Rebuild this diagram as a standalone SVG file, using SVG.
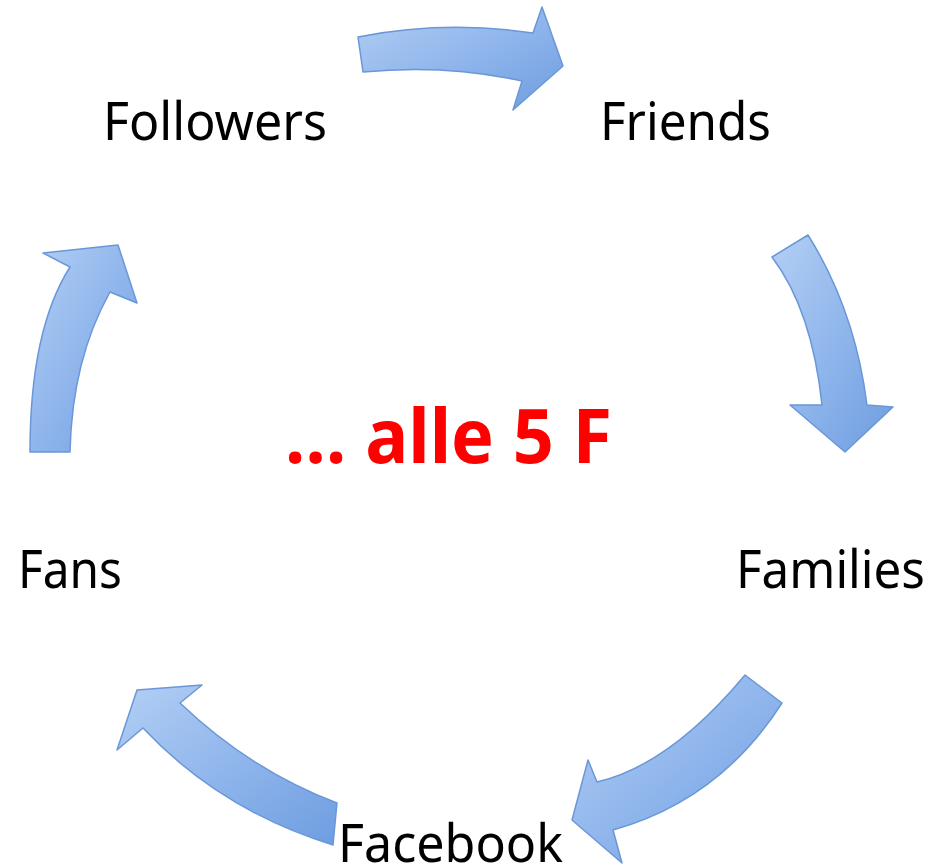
<svg xmlns="http://www.w3.org/2000/svg" width="941" height="868" viewBox="0 0 941 868">
<defs>
<linearGradient id="g" x1="0" y1="0" x2="1" y2="1">
<stop offset="0" stop-color="#b3cff4"/>
<stop offset="0.5" stop-color="#90b6ec"/>
<stop offset="1" stop-color="#6e9de0"/>
</linearGradient>
</defs>
<style>
.arr{fill:url(#g);stroke:#6a97d8;stroke-width:1.5;stroke-linejoin:round}
.lbl{font-family:"Noto Sans","Open Sans",sans-serif;font-size:52px;fill:#000}
.ctr{font-family:"Noto Sans","Open Sans",sans-serif;font-size:76px;font-weight:bold;fill:#ff0000}
</style>
<rect width="941" height="868" fill="#fff"/>
<g id="connectors">
<path class="arr" d="M358,37 Q445,20 533,33 L542,7 L563,66 L513,110 L522,81 Q445,64 363,72 Z"/>
<path class="arr" d="M772,257 L808,235 Q855,310 867,405 L893,407 L845,452 L790,405 L822,405 Q812,310 772,257 Z"/>
<path class="arr" d="M745,675 Q670,765 597,782 L588,760 L572,820 L622,863 L613,830 Q720,800 782,703 Z"/>
<path class="arr" d="M337,803 Q250,770 180,703 L202,685 L137,690 L117,750 L143,728 Q220,810 333,845 Z"/>
<path class="arr" d="M30,452 Q30,330 70,267 L43,253 L118,245 L137,303 L110,292 Q72,360 70,452 Z"/>
</g>
<g id="followers"><text class="lbl" x="103" y="140" textLength="224" lengthAdjust="spacingAndGlyphs">Followers</text></g>
<g id="friends"><text class="lbl" x="600" y="140" textLength="171" lengthAdjust="spacingAndGlyphs">Friends</text></g>
<g id="families"><text class="lbl" x="736" y="588" textLength="189" lengthAdjust="spacingAndGlyphs">Families</text></g>
<g id="fans"><text class="lbl" x="18" y="588" textLength="104" lengthAdjust="spacingAndGlyphs">Fans</text></g>
<g id="facebook"><text class="lbl" x="338" y="862" textLength="225" lengthAdjust="spacingAndGlyphs">Facebook</text></g>
<g id="center"><text class="ctr" x="285" y="463" textLength="327" lengthAdjust="spacingAndGlyphs">… alle 5 F</text></g>
</svg>
